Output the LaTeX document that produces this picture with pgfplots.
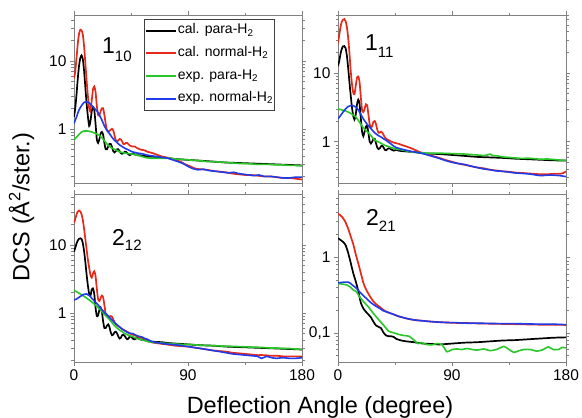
\documentclass[border=0pt]{standalone}
\usepackage{fontspec}
\setmainfont{Liberation Sans}
\usepackage{pgfplots}
\pgfplotsset{compat=1.18}
\definecolor{cred}{RGB}{232,40,24}
\definecolor{cgreen}{RGB}{40,200,40}
\definecolor{cblue}{RGB}{30,60,235}
\pgfplotsset{
  mypanel/.style={scale only axis, width=228pt, height=168pt, xmin=0, xmax=180,
    xtick={0,90,180}, minor xtick={45,135},
    axis line style={gray}, tick style={gray, line width=0.5pt}, tick align=outside,
    major tick length=4pt, minor tick length=2.5pt,
    ticklabel style={font=\fontsize{15.5}{15.5}\selectfont},
    /pgf/number format/assume math mode=true,
    minor ytick={0.02,0.03,0.04,0.05,0.06,0.07,0.08,0.09,0.2,0.3,0.4,0.5,0.6,0.7,0.8,0.9,2,3,4,5,6,7,8,9,20,30,40,50,60,70,80,90},
  },
}
\tikzset{cb/.style={black, line width=1.7pt, smooth, tension=0.4}, cr/.style={cred, line width=1.7pt, smooth, tension=0.4}, cg/.style={cgreen, line width=1.6pt, smooth, tension=0.4}, cbl/.style={cblue, line width=1.6pt, smooth, tension=0.4}}
\begin{document}
\begin{tikzpicture}
\path[use as bounding box] (0pt,0pt) rectangle (582pt,-418pt);
% ---------- top left 1_10
\begin{axis}[ymode=log, mypanel, at={(74pt,-183pt)}, anchor=south west, ymin=0.16, ymax=47,
  ytick={1,10}, yticklabels={1,10}, xticklabels={},
  legend style={at={(0.307,0.976)}, anchor=north west, draw=darkgray, line width=0.6pt,
    font=\fontsize{14}{15}\selectfont, inner xsep=1pt, inner ysep=4.5pt, row sep=8.6pt,
    nodes={inner xsep=0.5pt, inner ysep=1pt, text height=9pt, text depth=3pt}},
  legend cell align=left,
  legend image code/.code={\draw[#1, line width=2pt] (0pt,0pt) -- (30pt,0pt);}]
\addplot[cb] coordinates {(0,1.5)(1,2)(2,3.2)(3,5.5)(4,8.5)(5,11)(6,12)(7,10.5)(8,7)(9,4)(10,2.3)(11,1.5)(12,1.1)(13,1.3)(14,1.8)(15,2.1)(16,1.9)(17,1.2)(18,0.7)(19,0.62)(20,0.7)(21,0.85)(22,0.9)(23,0.82)(24,0.62)(25,0.5)(26,0.5)(27,0.55)(28,0.6)(29,0.6)(30,0.54)(31,0.47)(32,0.45)(33,0.47)(34,0.5)(35,0.5)(36,0.47)(37,0.44)(38,0.43)(39,0.44)(40,0.46)(41,0.46)(42,0.44)(43,0.42)(44,0.41)(45,0.42)(46,0.43)(47,0.43)(48,0.42)(50,0.41)(52,0.41)(55,0.40)(60,0.39)(65,0.385)(70,0.38)(75,0.37)(80,0.36)(85,0.355)(90,0.35)(100,0.34)(110,0.33)(120,0.32)(130,0.315)(140,0.31)(150,0.305)(160,0.30)(170,0.295)(180,0.29)};
\addlegendentry{cal. para-H\textsubscript{2}}
\addplot[cr] coordinates {(0,5.5)(1,7)(2,11)(3,18)(4,25)(5,28.6)(6,28)(7,24)(8,16)(9,9)(10,5)(11,3)(12,2)(12.8,1.8)(14,2.6)(15,3.8)(16,4.2)(17,3.5)(18,2.2)(19,1.6)(20,1.6)(21,1.8)(22,2.0)(23,2.0)(24,1.6)(25,1.2)(26,0.95)(27,0.91)(28,0.93)(29,0.97)(30,1.0)(31,0.95)(32,0.8)(33,0.68)(34,0.65)(35,0.68)(36,0.71)(37,0.7)(38,0.65)(39,0.6)(40,0.6)(41,0.62)(42,0.62)(44,0.57)(46,0.55)(48,0.55)(50,0.52)(52,0.5)(54,0.49)(56,0.48)(58,0.46)(60,0.45)(62,0.44)(65,0.42)(68,0.40)(70,0.39)(73,0.38)(76,0.37)(80,0.35)(84,0.33)(88,0.30)(92,0.28)(96,0.26)(100,0.255)(105,0.25)(110,0.24)(115,0.235)(120,0.23)(125,0.22)(130,0.215)(135,0.21)(140,0.21)(145,0.205)(150,0.20)(155,0.20)(160,0.195)(165,0.19)(170,0.19)(175,0.185)(180,0.18)};
\addlegendentry{cal. normal-H\textsubscript{2}}
\addplot[cg] coordinates {(0,0.69)(2,0.75)(4,0.83)(6,0.9)(8,0.93)(10,0.93)(12,0.92)(14,0.9)(16,0.87)(18,0.84)(20,0.8)(22,0.74)(24,0.67)(26,0.6)(28,0.55)(30,0.52)(32,0.5)(34,0.48)(36,0.46)(40,0.44)(44,0.43)(48,0.42)(52,0.40)(56,0.38)(60,0.37)(64,0.37)(68,0.37)(72,0.37)(76,0.37)(80,0.36)(85,0.355)(90,0.35)(95,0.345)(100,0.34)(105,0.33)(110,0.33)(115,0.325)(120,0.32)(125,0.315)(130,0.31)(135,0.31)(140,0.305)(145,0.30)(150,0.30)(155,0.30)(160,0.295)(165,0.295)(170,0.29)(175,0.29)(180,0.285)};
\addlegendentry{exp. para-H\textsubscript{2}}
\addplot[cbl] coordinates {(0,1.2)(2,1.5)(4,1.9)(6,2.2)(8,2.45)(10,2.5)(12,2.4)(14,2.2)(16,2.0)(18,1.85)(20,1.6)(22,1.35)(24,1.1)(26,0.95)(28,0.85)(30,0.75)(32,0.68)(34,0.63)(36,0.58)(38,0.55)(40,0.52)(42,0.5)(44,0.48)(46,0.46)(48,0.45)(50,0.44)(54,0.43)(58,0.41)(62,0.40)(66,0.39)(70,0.38)(74,0.37)(78,0.35)(82,0.33)(86,0.31)(90,0.28)(94,0.26)(98,0.25)(102,0.255)(106,0.245)(110,0.24)(114,0.235)(118,0.23)(122,0.225)(126,0.23)(130,0.22)(134,0.215)(138,0.21)(142,0.205)(146,0.21)(150,0.2)(155,0.2)(160,0.195)(165,0.19)(170,0.19)(175,0.195)(180,0.195)};
\addlegendentry{exp. normal-H\textsubscript{2}}
\end{axis}
% ---------- top right 1_11
\begin{axis}[ymode=log, mypanel, at={(338pt,-183pt)}, anchor=south west, ymin=0.25, ymax=70,
  ytick={1,10}, yticklabels={1,10}, xticklabels={}]
\addplot[cb] coordinates {(0,12.6)(1,15)(2,19)(3,22.5)(4,24.5)(5,24.7)(6,23)(7,18)(8,12)(9,7.5)(10,4.8)(11,3.2)(12,2.4)(13,2.1)(14,2.5)(15,3.5)(16,4.1)(17,3.6)(18,2.2)(19,1.4)(20,1.2)(21,1.4)(22,1.65)(23,1.7)(24,1.35)(25,1.0)(26,0.94)(27,1.0)(28,1.1)(29,1.1)(30,0.95)(31,0.82)(32,0.78)(33,0.8)(34,0.86)(35,0.88)(36,0.82)(37,0.76)(38,0.75)(39,0.78)(40,0.8)(41,0.8)(42,0.77)(44,0.74)(46,0.76)(48,0.74)(50,0.73)(54,0.72)(58,0.71)(62,0.70)(67,0.68)(72,0.67)(80,0.66)(90,0.64)(100,0.62)(110,0.60)(120,0.59)(130,0.58)(140,0.565)(150,0.555)(160,0.545)(170,0.535)(180,0.53)};
\addplot[cr] coordinates {(0,27)(1,36)(2,47)(3,56)(4,60)(5,61)(6,57)(7,47)(8,33)(9,20)(10,11)(11,7)(12,5.2)(13,4.9)(14,6.5)(15,8.5)(16,8.9)(17,7.5)(18,4.5)(19,2.9)(20,2.7)(21,3.0)(22,3.5)(23,3.4)(24,2.5)(25,1.8)(26,1.6)(27,1.7)(28,1.95)(29,2.0)(30,1.8)(31,1.5)(32,1.35)(33,1.35)(34,1.4)(35,1.35)(36,1.25)(37,1.15)(38,1.1)(40,1.05)(42,1.0)(44,0.97)(46,0.95)(48,0.93)(50,0.9)(54,0.85)(58,0.8)(62,0.74)(67,0.68)(72,0.64)(76,0.61)(80,0.58)(85,0.54)(90,0.51)(95,0.48)(100,0.46)(105,0.44)(110,0.42)(115,0.41)(120,0.39)(125,0.38)(130,0.37)(135,0.365)(140,0.355)(146,0.35)(150,0.345)(155,0.34)(160,0.335)(165,0.335)(170,0.34)(175,0.34)(178,0.35)(180,0.37)};
\addplot[cg] coordinates {(0,3.0)(3,2.9)(6,2.8)(9,2.65)(12,2.45)(14,2.3)(16,2.05)(18,1.8)(20,1.6)(22,1.45)(24,1.35)(26,1.22)(28,1.1)(30,1.03)(32,0.99)(34,0.95)(36,0.9)(38,0.87)(40,0.85)(42,0.82)(45,0.79)(48,0.77)(52,0.75)(56,0.72)(60,0.7)(65,0.69)(70,0.68)(75,0.68)(80,0.68)(85,0.675)(90,0.67)(95,0.665)(100,0.66)(105,0.65)(110,0.64)(115,0.63)(118,0.64)(120,0.66)(122,0.63)(126,0.62)(130,0.6)(135,0.59)(140,0.58)(145,0.57)(150,0.575)(155,0.565)(160,0.555)(165,0.56)(170,0.55)(175,0.54)(180,0.53)};
\addplot[cbl] coordinates {(0,2.15)(2,2.4)(4,2.7)(6,3.0)(8,3.25)(10,3.35)(12,3.35)(14,3.2)(16,2.9)(18,2.5)(20,2.15)(22,1.9)(24,1.7)(26,1.55)(28,1.4)(30,1.3)(32,1.22)(34,1.17)(36,1.1)(38,1.05)(40,0.98)(42,0.92)(44,0.86)(46,0.82)(48,0.8)(50,0.78)(54,0.75)(58,0.72)(62,0.70)(67,0.67)(72,0.63)(76,0.60)(80,0.57)(85,0.53)(90,0.5)(95,0.48)(100,0.465)(105,0.44)(110,0.42)(115,0.40)(120,0.39)(125,0.375)(130,0.37)(135,0.36)(140,0.35)(145,0.345)(150,0.34)(155,0.33)(160,0.32)(165,0.325)(170,0.325)(175,0.32)(180,0.31)};
\end{axis}
% ---------- bottom left 2_12
\begin{axis}[ymode=log, mypanel, at={(74pt,-362pt)}, anchor=south west, ymin=0.19, ymax=56,
  ytick={1,10}, yticklabels={1,10}, xticklabels={0,90,180}]
\addplot[cb] coordinates {(0,8)(1,9)(2,10.5)(3,11.6)(4,12.3)(5,12.5)(6,12.2)(7,10.5)(8,8)(9,5.5)(10,3.6)(11,2.5)(12,1.9)(13,1.8)(14,2.2)(15,2.3)(16,1.9)(17,1.2)(18,0.9)(19,0.92)(20,1.1)(21,1.2)(22,1.05)(23,0.75)(24,0.6)(25,0.6)(26,0.65)(27,0.68)(28,0.62)(29,0.52)(30,0.47)(31,0.48)(32,0.52)(33,0.53)(34,0.5)(35,0.45)(36,0.42)(37,0.43)(38,0.47)(39,0.48)(40,0.46)(41,0.43)(42,0.41)(43,0.42)(44,0.45)(45,0.45)(46,0.43)(47,0.41)(48,0.41)(49,0.42)(50,0.43)(52,0.41)(54,0.40)(56,0.41)(58,0.39)(60,0.38)(65,0.375)(70,0.37)(75,0.36)(80,0.355)(85,0.35)(90,0.345)(100,0.335)(110,0.33)(120,0.32)(130,0.315)(140,0.31)(150,0.305)(160,0.30)(170,0.295)(180,0.29)};
\addplot[cr] coordinates {(0,21)(1,24)(2,28)(3,31)(4,32)(5,31)(6,28)(7,23)(8,17)(9,12)(10,8.5)(11,6)(12,4.6)(13,3.6)(14,3.3)(15,3.8)(16,4.1)(17,3.5)(18,2.3)(19,1.6)(20,1.5)(21,1.65)(22,1.8)(23,1.7)(24,1.3)(25,0.97)(26,0.9)(27,0.88)(28,0.89)(29,0.9)(30,0.88)(31,0.8)(32,0.73)(33,0.68)(34,0.66)(36,0.62)(38,0.58)(40,0.55)(42,0.53)(44,0.5)(46,0.48)(48,0.47)(50,0.45)(52,0.44)(55,0.42)(58,0.39)(61,0.37)(65,0.36)(70,0.35)(75,0.34)(80,0.33)(85,0.325)(90,0.32)(95,0.31)(100,0.30)(105,0.29)(110,0.28)(115,0.275)(120,0.27)(125,0.26)(130,0.255)(135,0.25)(140,0.245)(145,0.24)(150,0.24)(155,0.235)(160,0.235)(165,0.23)(170,0.23)(175,0.23)(180,0.23)};
\addplot[cg] coordinates {(0,2.15)(2,2.05)(4,1.95)(6,1.85)(8,1.75)(10,1.65)(12,1.55)(14,1.45)(16,1.35)(18,1.25)(20,1.15)(22,1.05)(24,0.95)(26,0.87)(28,0.8)(30,0.72)(32,0.65)(34,0.6)(36,0.56)(38,0.53)(40,0.5)(43,0.47)(46,0.45)(50,0.42)(54,0.40)(58,0.38)(62,0.37)(66,0.365)(70,0.36)(75,0.355)(80,0.35)(85,0.345)(90,0.345)(95,0.34)(100,0.335)(110,0.33)(120,0.325)(130,0.32)(140,0.315)(150,0.31)(155,0.305)(160,0.305)(165,0.30)(170,0.30)(175,0.295)(180,0.29)};
\addplot[cbl] coordinates {(0,1.55)(2,1.6)(4,1.7)(6,1.8)(8,1.88)(10,1.9)(12,1.8)(14,1.65)(16,1.5)(18,1.38)(20,1.25)(22,1.12)(24,1.02)(26,0.94)(28,0.86)(30,0.79)(32,0.72)(34,0.67)(36,0.62)(38,0.58)(40,0.55)(42,0.52)(44,0.5)(46,0.5)(48,0.48)(50,0.46)(52,0.45)(54,0.44)(56,0.42)(58,0.41)(60,0.39)(64,0.37)(68,0.36)(72,0.35)(76,0.345)(80,0.34)(85,0.33)(90,0.32)(95,0.31)(100,0.30)(105,0.29)(110,0.28)(115,0.27)(120,0.26)(125,0.25)(130,0.245)(135,0.24)(140,0.235)(145,0.23)(148,0.215)(152,0.23)(156,0.22)(160,0.215)(165,0.22)(170,0.215)(175,0.215)(180,0.22)};
\end{axis}
% ---------- bottom right 2_21
\begin{axis}[ymode=log, mypanel, at={(338pt,-362pt)}, anchor=south west, ymin=0.041, ymax=6.9,
  ytick={0.1,1}, yticklabels={{0,1},1}, xticklabels={0,90,180}]
\addplot[cb] coordinates {(0,1.79)(2,1.7)(4,1.6)(6,1.45)(8,1.15)(10,0.85)(12,0.62)(14,0.48)(16,0.36)(18,0.25)(20,0.21)(22,0.19)(24,0.175)(26,0.16)(28,0.14)(30,0.125)(32,0.12)(34,0.115)(36,0.1)(38,0.092)(40,0.09)(42,0.09)(44,0.088)(46,0.083)(50,0.079)(54,0.077)(60,0.075)(67,0.072)(75,0.071)(80,0.07)(90,0.072)(100,0.074)(110,0.075)(120,0.077)(130,0.079)(140,0.08)(150,0.082)(160,0.084)(170,0.086)(180,0.087)};
\addplot[cr] coordinates {(0,3.76)(2,3.6)(4,3.3)(6,2.9)(8,2.4)(10,1.9)(12,1.5)(14,1.1)(16,0.83)(18,0.62)(20,0.46)(22,0.38)(24,0.33)(26,0.29)(28,0.26)(30,0.24)(33,0.22)(36,0.2)(40,0.185)(44,0.175)(48,0.165)(54,0.155)(60,0.148)(67,0.144)(75,0.14)(85,0.137)(94,0.135)(100,0.135)(110,0.133)(120,0.132)(130,0.131)(140,0.13)(150,0.129)(160,0.128)(170,0.128)(180,0.127)};
\addplot[cg] coordinates {(0,0.45)(4,0.44)(7,0.43)(10,0.4)(12,0.37)(14.5,0.35)(17,0.3)(20,0.26)(24,0.22)(28,0.18)(32,0.15)(36,0.126)(40,0.105)(44,0.1)(48,0.095)(52,0.092)(56,0.09)(60,0.08)(63,0.072)(66,0.074)(70,0.07)(74,0.069)(78,0.072)(82,0.07)(86,0.056)(90,0.06)(94,0.061)(98,0.06)(102,0.062)(106,0.06)(110,0.059)(115,0.061)(120,0.058)(125,0.06)(131,0.066)(135,0.06)(139,0.055)(143,0.058)(147,0.06)(152,0.06)(157,0.057)(162,0.06)(166,0.065)(170,0.06)(174,0.06)(177,0.064)(180,0.063)};
\addplot[cbl] coordinates {(0,0.46)(3,0.465)(6,0.47)(8,0.47)(10,0.45)(12,0.42)(14.5,0.39)(17,0.35)(20,0.31)(22.5,0.285)(26,0.25)(30,0.225)(33,0.21)(36,0.195)(40,0.185)(44,0.175)(48,0.165)(54,0.155)(60,0.148)(67,0.144)(75,0.14)(85,0.137)(94,0.136)(100,0.134)(110,0.134)(120,0.133)(130,0.132)(140,0.132)(150,0.131)(160,0.13)(170,0.13)(180,0.128)};
\end{axis}
% ---------- labels
\node[anchor=base west, inner sep=0pt] at (102pt,-53.3pt) {\fontsize{23}{23}\selectfont 1\raisebox{-8pt}{\fontsize{15}{15}\selectfont 10}};
\node[anchor=base west, inner sep=0pt] at (365pt,-50pt) {\fontsize{23}{23}\selectfont 1\raisebox{-7pt}{\fontsize{15}{15}\selectfont 11}};
\node[anchor=base west, inner sep=0pt] at (112pt,-245pt) {\fontsize{23}{23}\selectfont 2\raisebox{-5pt}{\fontsize{15}{15}\selectfont 12}};
\node[anchor=base west, inner sep=0pt] at (366pt,-225pt) {\fontsize{23}{23}\selectfont 2\raisebox{-6pt}{\fontsize{15}{15}\selectfont 21}};
\node[rotate=90, anchor=base, inner sep=0pt, font=\fontsize{23.5}{23.5}\selectfont] at (29.5pt,-207pt) {DCS (Å\textsuperscript{2}/ster.)};
\node[anchor=base, inner sep=0pt, font=\fontsize{23.5}{23.5}\selectfont] at (320pt,-413pt) {Deflection Angle (degree)};
\end{tikzpicture}
\end{document}
